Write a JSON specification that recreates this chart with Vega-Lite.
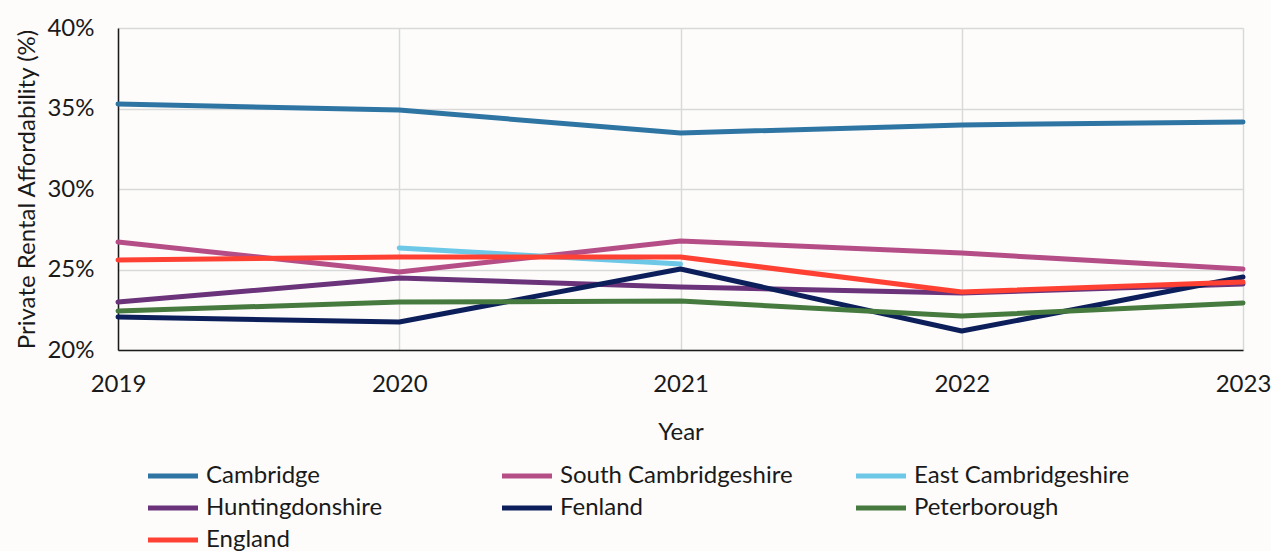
{
  "$schema": "https://vega.github.io/schema/vega-lite/v6.json",
  "width": 1125,
  "height": 322,
  "autosize": {"type": "none"},
  "padding": {"left": 118, "top": 28, "right": 28, "bottom": 201},
  "background": "#fdfcfb",
  "config": {
    "font": "Lato",
    "view": {"stroke": null},
    "axis": {"labelColor": "#1a1a1a", "titleColor": "#1a1a1a", "labelFont": "Lato", "titleFont": "Lato", "titleFontWeight": "normal", "gridColor": "#d9d9d9", "gridWidth": 1.5}
  },
  "data": {
    "values": [
      {"Year": 2019, "Area": "Cambridge", "Value": 35.28},
      {"Year": 2020, "Area": "Cambridge", "Value": 34.9},
      {"Year": 2021, "Area": "Cambridge", "Value": 33.48},
      {"Year": 2022, "Area": "Cambridge", "Value": 33.98},
      {"Year": 2023, "Area": "Cambridge", "Value": 34.16},
      {"Year": 2019, "Area": "South Cambridgeshire", "Value": 26.71},
      {"Year": 2020, "Area": "South Cambridgeshire", "Value": 24.84},
      {"Year": 2021, "Area": "South Cambridgeshire", "Value": 26.77},
      {"Year": 2022, "Area": "South Cambridgeshire", "Value": 26.02},
      {"Year": 2023, "Area": "South Cambridgeshire", "Value": 25.03},
      {"Year": 2020, "Area": "East Cambridgeshire", "Value": 26.34},
      {"Year": 2021, "Area": "East Cambridgeshire", "Value": 25.34},
      {"Year": 2019, "Area": "Huntingdonshire", "Value": 22.98},
      {"Year": 2020, "Area": "Huntingdonshire", "Value": 24.47},
      {"Year": 2021, "Area": "Huntingdonshire", "Value": 23.91},
      {"Year": 2022, "Area": "Huntingdonshire", "Value": 23.54},
      {"Year": 2023, "Area": "Huntingdonshire", "Value": 24.1},
      {"Year": 2019, "Area": "Fenland", "Value": 22.05},
      {"Year": 2020, "Area": "Fenland", "Value": 21.74},
      {"Year": 2021, "Area": "Fenland", "Value": 25.03},
      {"Year": 2022, "Area": "Fenland", "Value": 21.18},
      {"Year": 2023, "Area": "Fenland", "Value": 24.53},
      {"Year": 2019, "Area": "Peterborough", "Value": 22.42},
      {"Year": 2020, "Area": "Peterborough", "Value": 22.98},
      {"Year": 2021, "Area": "Peterborough", "Value": 23.04},
      {"Year": 2022, "Area": "Peterborough", "Value": 22.11},
      {"Year": 2023, "Area": "Peterborough", "Value": 22.92},
      {"Year": 2019, "Area": "England", "Value": 25.59},
      {"Year": 2020, "Area": "England", "Value": 25.78},
      {"Year": 2021, "Area": "England", "Value": 25.78},
      {"Year": 2022, "Area": "England", "Value": 23.6},
      {"Year": 2023, "Area": "England", "Value": 24.22}
    ]
  },
  "mark": {"type": "line", "strokeWidth": 5, "strokeCap": "round", "strokeJoin": "round"},
  "encoding": {
    "x": {
      "field": "Year", "type": "quantitative",
      "scale": {"domain": [2019, 2023], "nice": false, "zero": false},
      "axis": {"values": [2019, 2020, 2021, 2022, 2023], "format": "d", "title": "Year", "labelFontSize": 24, "titleFontSize": 24, "labelPadding": 22, "ticks": false, "domainColor": "#1a1a1a", "domainWidth": 1.5, "labelOverlap": false, "labelBound": false, "labelFlush": false, "titlePadding": 24}
    },
    "y": {
      "field": "Value", "type": "quantitative",
      "scale": {"domain": [20, 40], "nice": false, "zero": false},
      "axis": {"values": [20, 25, 30, 35, 40], "labelExpr": "datum.value + '%'", "title": "Private Rental Affordability (%)", "labelFontSize": 24, "titleFontSize": 24, "labelPadding": 24, "ticks": false, "domainColor": "#1a1a1a", "domainWidth": 1.5, "titlePadding": 7}
    },
    "color": {
      "field": "Area", "type": "nominal",
      "scale": {
        "domain": ["Cambridge", "South Cambridgeshire", "East Cambridgeshire", "Huntingdonshire", "Fenland", "Peterborough", "England"],
        "range": ["#2e75a3", "#b54e87", "#6cc8e6", "#6a337a", "#0c1f5a", "#467a3f", "#ff4133"]
      },
      "legend": {
        "orient": "none", "legendX": 23, "legendY": 436, "direction": "horizontal", "columns": 3,
        "title": null, "symbolType": "M-1,0H9", "symbolSize": 100, "symbolStrokeWidth": 5,
        "labelFontSize": 24, "labelColor": "#1a1a1a", "labelFont": "Lato", "labelOffset": 41,
        "rowPadding": 8, "columnPadding": 53, "gridAlign": "all", "labelLimit": 400
      }
    }
  }
}
